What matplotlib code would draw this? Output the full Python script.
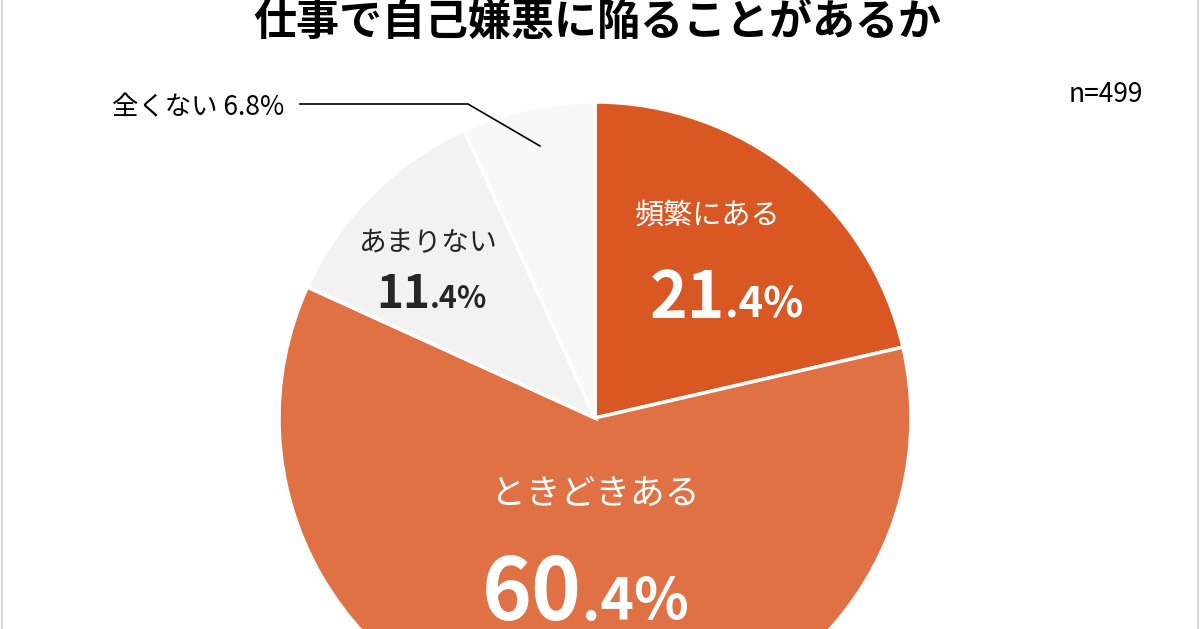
import matplotlib
matplotlib.use("Agg")
import matplotlib.pyplot as plt

plt.rcParams['font.family'] = ['Noto Sans CJK JP', 'DejaVu Sans']

# データ
categories = ['頻繁にある', 'ときどきある', 'あまりない', '全くない']
values = [21.4, 60.4, 11.4, 6.8]
colors = ['#D95723', '#E07145', '#F2F2F2', '#F8F8F8']
title = '仕事で自己嫌悪に陥ることがあるか'
n_label = 'n=499'

W, H = 1200, 629
fig = plt.figure(figsize=(W / 100, H / 100), dpi=100)
ax = fig.add_axes([0, 0, 1, 1])

# 円グラフ (中心と半径はピクセル座標)
cx, cy, r = 595, H - 418, 316
ax.pie(values, colors=colors, startangle=90, counterclock=False,
       center=(cx, cy), radius=r, frame=True,
       wedgeprops=dict(edgecolor='white', linewidth=2.5))
ax.set_xlim(0, W)
ax.set_ylim(0, H)
ax.axis('off')

# タイトル
ax.text(597, H - 22, title, ha='center', va='center', fontsize=31,
        fontweight='bold', color='black')
ax.text(1106, H - 95, n_label, ha='center', va='center', fontsize=19,
        color='black')

# ラベル: 頻繁にある
ax.text(708, H - 215, categories[0], ha='center', va='center', fontsize=21,
        color='white')
ax.text(725, H - 318, '21', ha='right', va='baseline', fontsize=46,
        fontweight='bold', color='white')
ax.text(725, H - 318, '.4%', ha='left', va='baseline', fontsize=30,
        fontweight='bold', color='white')

# ラベル: ときどきある
ax.text(595, H - 495, categories[1], ha='center', va='center', fontsize=25,
        color='white')
ax.text(582, H - 620, '60', ha='right', va='baseline', fontsize=61,
        fontweight='bold', color='white')
ax.text(582, H - 620, '.4%', ha='left', va='baseline', fontsize=41,
        fontweight='bold', color='white')

# ラベル: あまりない
ax.text(428, H - 243, categories[2], ha='center', va='center', fontsize=20,
        color='#262626')
ax.text(430, H - 308, '11', ha='right', va='baseline', fontsize=33,
        fontweight='bold', color='#262626')
ax.text(430, H - 308, '.4%', ha='left', va='baseline', fontsize=22,
        fontweight='bold', color='#262626')

# ラベル: 全くない (引き出し線)
ax.text(198, H - 108, categories[3] + ' 6.8%', ha='center', va='center',
        fontsize=19, color='black')
ax.plot([300, 468, 540], [H - 104, H - 104, H - 146], color='black',
        linewidth=1.2)

# 枠線
ax.plot([1.5, 1.5], [0, H], color='#D9D9D9', linewidth=1.5)
ax.plot([W - 2.5, W - 2.5], [0, H], color='#D9D9D9', linewidth=1.5)

fig.savefig('out.png', dpi=100)
